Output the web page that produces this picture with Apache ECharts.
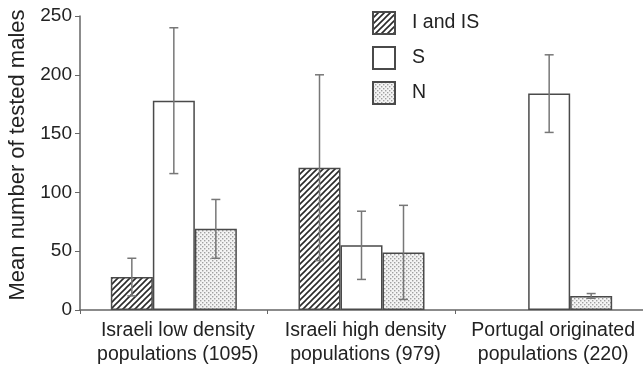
<!DOCTYPE html>
<html lang="en">
<head>
    <meta charset="UTF-8">
    <title>Mean number of tested males</title>
</head>
<script type="text/javascript" src="https://cdn.jsdelivr.net/npm/echarts@6/dist/echarts.min.js"></script>
<body style="margin:0;background:#fff;">
<div id="main" style="width: 643px; height: 366px;"></div>
</body>
</html>
<script type="text/javascript">
    // categories and values
    var categories = ['Israeli low density\npopulations (1095)', 'Israeli high density\npopulations (979)', 'Portugal originated\npopulations (220)'];
    var seriesNames = ['I and IS', 'S', 'N'];
    var iisMean = [28, 121, null];
    var iisErr = [16, 79, null];
    var sMean = [178, 55, 184];
    var sErr = [62, 29, 33];
    var nMean = [69, 49, 12];
    var nErr = [25, 40, 2];
    var yTicks = [0, 50, 100, 150, 200, 250];

    // fill patterns
    function hatch() {
        var c = document.createElement('canvas');
        c.width = 6; c.height = 6;
        var ctx = c.getContext('2d');
        ctx.fillStyle = '#fff';
        ctx.fillRect(0, 0, 6, 6);
        ctx.strokeStyle = '#2a2a2a';
        ctx.lineWidth = 1.6;
        ctx.beginPath();
        ctx.moveTo(-1, 7); ctx.lineTo(7, -1);
        ctx.moveTo(-4, 4); ctx.lineTo(4, -4);
        ctx.moveTo(2, 10); ctx.lineTo(10, 2);
        ctx.stroke();
        return c;
    }
    function dots() {
        var c = document.createElement('canvas');
        c.width = 4; c.height = 4;
        var ctx = c.getContext('2d');
        ctx.fillStyle = '#f4f4f4';
        ctx.fillRect(0, 0, 4, 4);
        ctx.fillStyle = '#a0a0a0';
        ctx.fillRect(0, 0, 1.4, 1.4);
        ctx.fillRect(2, 2, 1.4, 1.4);
        return c;
    }
    var fills = [
        {image: hatch(), repeat: 'repeat'},
        '#ffffff',
        {image: dots(), repeat: 'repeat'}
    ];
    var means = [iisMean, sMean, nMean];
    var errs = [iisErr, sErr, nErr];

    var font = 'Liberation Sans, Arial, sans-serif';
    var series = [];
    for (var k = 0; k < 3; k++) {
        series.push({
            name: seriesNames[k],
            type: 'bar',
            barWidth: 42,
            barGap: '0%',
            itemStyle: {color: fills[k], borderColor: '#4a4a4a', borderWidth: 1.5},
            data: means[k],
            z: 2
        });
    }
    // error bars
    for (var k = 0; k < 3; k++) {
        var ed = [];
        for (var i = 0; i < categories.length; i++) {
            if (means[k][i] == null) continue;
            ed.push([i, means[k][i] - errs[k][i], means[k][i] + errs[k][i]]);
        }
        (function (idx) {
            series.push({
                type: 'custom',
                name: 'err' + idx,
                z: 5,
                data: ed,
                renderItem: function (params, api) {
                    var c = api.value(0);
                    var lo = api.coord([c, api.value(1)]);
                    var hi = api.coord([c, api.value(2)]);
                    var x = lo[0] + (idx - 1) * 42;
                    var cap = 4.5;
                    var st = {stroke: '#777', lineWidth: 1.5};
                    return {
                        type: 'group',
                        children: [
                            {type: 'line', shape: {x1: x, y1: lo[1], x2: x, y2: hi[1]}, style: st},
                            {type: 'line', shape: {x1: x - cap, y1: lo[1], x2: x + cap, y2: lo[1]}, style: st},
                            {type: 'line', shape: {x1: x - cap, y1: hi[1], x2: x + cap, y2: hi[1]}, style: st}
                        ]
                    };
                }
            });
        })(k);
    }

    var option = {
        animation: false,
        grid: {left: 80, right: 0, top: 16, bottom: 56, outerBoundsMode: 'none'},
        legend: {
            data: seriesNames,
            orient: 'vertical',
            left: 372,
            top: 11,
            padding: 0,
            icon: 'rect',
            itemWidth: 22,
            itemHeight: 22,
            itemGap: 11,
            textStyle: {fontFamily: font, fontSize: 19.5, color: '#222', padding: [0, 0, 0, 12]}
        },
        xAxis: {
            type: 'category',
            data: categories,
            axisLine: {lineStyle: {color: '#666', width: 1.5}},
            axisTick: {show: true, length: 4, lineStyle: {color: '#666'}},
            axisLabel: {fontFamily: font, fontSize: 19.5, color: '#222', lineHeight: 24, margin: 9, interval: 0, padding: [0, 0, 0, 8]}
        },
        yAxis: {
            type: 'value',
            min: yTicks[0],
            max: yTicks[yTicks.length - 1],
            interval: 50,
            name: 'Mean number of tested males',
            nameLocation: 'middle',
            nameGap: 50,
            nameTextStyle: {fontFamily: font, fontSize: 22, color: '#222', padding: [0, 0, 0, 16]},
            axisLine: {show: true, lineStyle: {color: '#666', width: 1.5}},
            axisTick: {show: true, length: 5, lineStyle: {color: '#666'}},
            axisLabel: {fontFamily: font, fontSize: 19, color: '#222', margin: 8},
            splitLine: {show: false}
        },
        series: series
    };
    var myChart = echarts.init(document.getElementById('main'));
    myChart.setOption(option);
</script>
